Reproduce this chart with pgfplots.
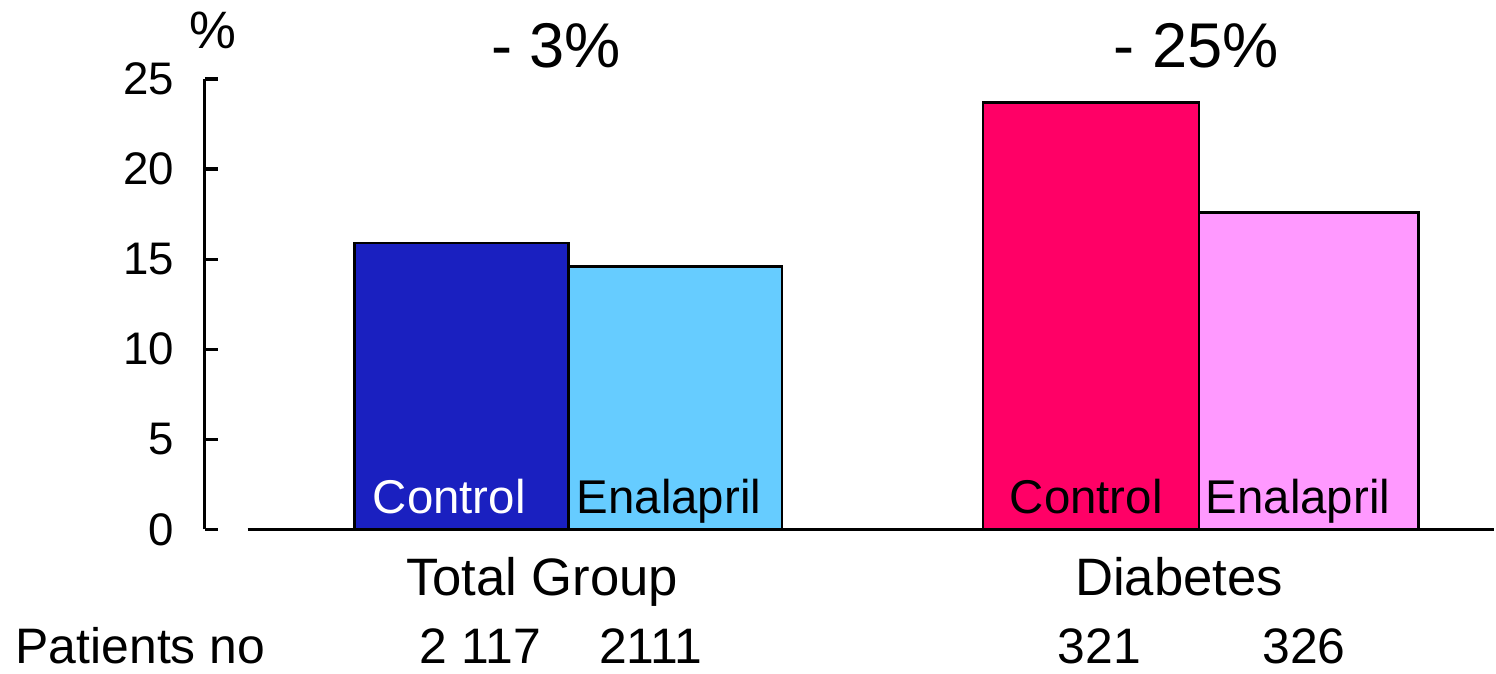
\documentclass[border=0pt]{standalone}
\usepackage{pgfplots}
\pgfplotsset{compat=1.18}
\usepackage{fontspec}
\setmainfont{Liberation Sans}

\definecolor{ctrlblue}{RGB}{26,32,192}
\definecolor{enalblue}{RGB}{102,204,255}
\definecolor{ctrlpink}{RGB}{255,0,102}
\definecolor{enalpink}{RGB}{255,153,255}

\begin{document}
\begin{tikzpicture}
% pixel grid of the reference: 1 px = 0.01 cm, y downwards
\begin{axis}[
    at={(2.05cm,-5.30cm)}, anchor=south west,
    scale only axis,
    width=12.91cm, height=4.51cm,
    xmin=205, xmax=1496,
    ymin=0, ymax=25,
    axis x line=none,
    axis y line*=left,
    ytick={0,5,...,25},
    tick align=inside,
    major tick length=0.13cm,
    axis line style={line width=0.9pt},
    every tick/.style={line width=0.9pt, black},
    yticklabel style={anchor=east, xshift=-0.30cm, inner sep=0pt, font=\fontsize{13}{15}\selectfont},
    /pgf/number format/assume math mode=true,
    clip=false,
]
\addplot[ybar, bar shift=0pt, bar width=214, fill=ctrlblue, draw=black, line width=0.7pt] coordinates {(462,15.9)};
\addplot[ybar, bar shift=0pt, bar width=214, fill=enalblue, draw=black, line width=0.7pt] coordinates {(676,14.6)};
\addplot[ybar, bar shift=0pt, bar width=216, fill=ctrlpink, draw=black, line width=0.7pt] coordinates {(1092,23.7)};
\addplot[ybar, bar shift=0pt, bar width=220, fill=enalpink, draw=black, line width=0.7pt] coordinates {(1310,17.6)};
\draw[line width=0.9pt] (axis cs:248,0) -- (axis cs:1496,0);
\end{axis}

\begin{scope}[x=0.01cm, y=-0.01cm]
\path (0,0) rectangle (1496,675);
\node[anchor=base, inner sep=0pt, font=\fontsize{15}{17}\selectfont] at (213,49) {\%};
\node[anchor=base, inner sep=0pt, font=\fontsize{18}{20}\selectfont] at (557,68) {- 3\%};
\node[anchor=base, inner sep=0pt, font=\fontsize{18}{20}\selectfont] at (1198,68) {- 25\%};
\begin{scope}[every node/.style={anchor=base, inner sep=0pt, font=\fontsize{13.5}{15}\selectfont}]
\node[text=white] at (450,514) {Control};
\node at (670,514) {Enalapril};
\node at (1088,514) {Control};
\node at (1300,514) {Enalapril};
\end{scope}
\begin{scope}[every node/.style={anchor=base, inner sep=0pt, font=\fontsize{15}{17}\selectfont}]
\node at (543,596) {Total Group};
\node at (1181,596) {Diabetes};
\end{scope}
\begin{scope}[every node/.style={anchor=base, inner sep=0pt, font=\fontsize{14.2}{16}\selectfont}]
\node[anchor=base west] at (15,665) {Patients no};
\node at (481,665) {2 117};
\node at (652,665) {2111};
\node at (1101,665) {321};
\node at (1306,665) {326};
\end{scope}
\end{scope}
\end{tikzpicture}
\end{document}
